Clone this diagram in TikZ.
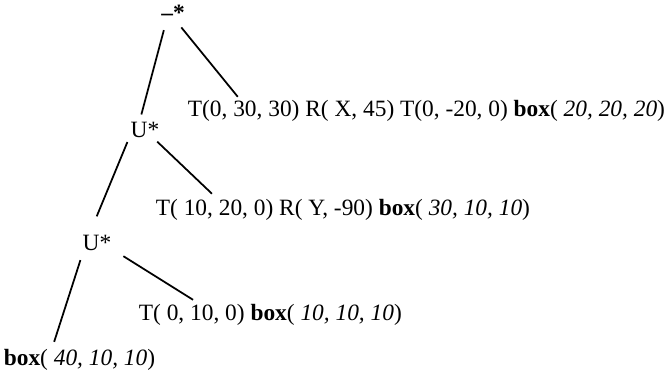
\documentclass[tikz,border=0pt]{standalone}
\usepackage{fontspec}
\setmainfont{Liberation Serif}
\begin{document}
\begin{tikzpicture}[line width=1pt, font=\fontsize{13.3}{15}\selectfont,
    every node/.style={inner sep=1pt},
    leaf/.style={anchor=west, inner sep=0pt}]
    \useasboundingbox (0,0) rectangle (13.38,-7.68);

    % 1. Các nút trong của cây
    \node (root) at (3.46,-0.26) {\textbf{--*}};
    \node (u1) at (2.90,-2.60) {U*};
    \node (u2) at (1.94,-4.86) {U*};

    % 2. Các lá
    \node[leaf] (l1) at (3.74,-2.22) {T(0, 30, 30) R( X, 45) T(0, -20, 0) \textbf{box}( \textit{20, 20, 20})};
    \node[leaf] (l2) at (3.10,-4.20) {T( 10, 20, 0) R( Y, -90) \textbf{box}( \textit{30, 10, 10})};
    \node[leaf] (l3) at (2.76,-6.30) {T( 0, 10, 0) \textbf{box}( \textit{10, 10, 10})};
    \node[leaf] (l4) at (0.06,-7.20) {\textbf{box}( \textit{40, 10, 10})};

    % 3. Các cạnh
    \draw[shorten <=4pt, shorten >=3pt] ([xshift=0.14cm]root.south west) -- ([xshift=-0.1cm]u1.north);
    \draw[shorten <=3pt, shorten >=2pt] ([xshift=0.1cm]root.south) -- ([xshift=1.06cm]l1.north west);
    \draw[shorten <=1pt, shorten >=10pt] (u1.south west) -- ([xshift=-0.14cm]u2.north);
    \draw[shorten <=1pt, shorten >=4pt] ([xshift=-0.12cm]u1.south east) -- ([xshift=1.24cm]l2.north west);
    \draw[shorten <=4pt, shorten >=4pt] ([xshift=0.05cm]u2.south west) -- ([xshift=0.98cm]l4.north west);
    \draw[shorten <=3pt, shorten >=4pt] ([xshift=0.1cm]u2.south east) -- ([xshift=1.22cm]l3.north west);
\end{tikzpicture}
\end{document}
